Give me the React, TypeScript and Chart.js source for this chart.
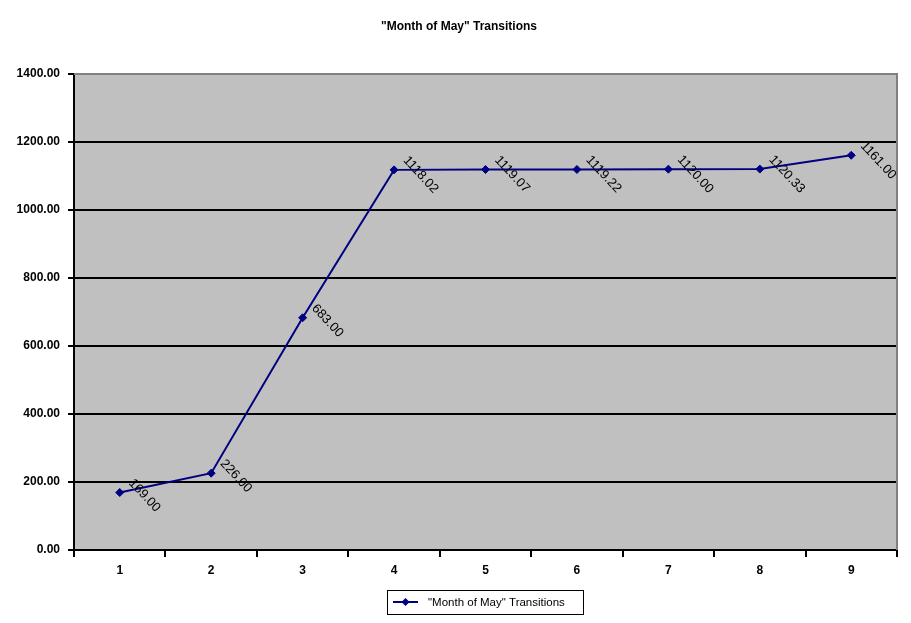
import React, { useEffect, useRef } from 'react';
import Chart from 'chart.js/auto';

const chartTitle = '"Month of May" Transitions';
const seriesName = '"Month of May" Transitions';
const categories = ['1', '2', '3', '4', '5', '6', '7', '8', '9'];
const transitions = [169.0, 226.0, 683.0, 1118.02, 1119.07, 1119.22, 1120.0, 1120.33, 1161.0];

const NAVY = '#000080';
const PLOT_GRAY = '#C0C0C0';
const BORDER_GRAY = '#808080';

// plot background + gray frame (top and right)
const plotBackground = {
    id: 'plotBackground',
    beforeDraw(chart: any) {
        const { ctx, chartArea } = chart;
        ctx.save();
        ctx.fillStyle = PLOT_GRAY;
        ctx.fillRect(chartArea.left, chartArea.top, chartArea.right - chartArea.left, chartArea.bottom - chartArea.top);
        ctx.restore();
    },
    beforeDatasetsDraw(chart: any) {
        const { ctx, chartArea } = chart;
        ctx.save();
        ctx.strokeStyle = BORDER_GRAY;
        ctx.lineWidth = 2;
        ctx.beginPath();
        ctx.moveTo(chartArea.left, chartArea.top);
        ctx.lineTo(chartArea.right, chartArea.top);
        ctx.lineTo(chartArea.right, chartArea.bottom);
        ctx.stroke();
        ctx.restore();
    }
};

// rotated value labels next to each point
const valueLabels = {
    id: 'valueLabels',
    afterDatasetsDraw(chart: any) {
        const { ctx } = chart;
        const meta = chart.getDatasetMeta(0);
        const data = chart.data.datasets[0].data as number[];
        ctx.save();
        ctx.font = '13px "Liberation Sans", Arial, sans-serif';
        ctx.fillStyle = '#000';
        ctx.textAlign = 'left';
        ctx.textBaseline = 'top';
        meta.data.forEach((pt: any, i: number) => {
            ctx.save();
            ctx.translate(pt.x + 16, pt.y - 16);
            ctx.rotate((47 * Math.PI) / 180);
            ctx.fillText(data[i].toFixed(2), 0, 0);
            ctx.restore();
        });
        ctx.restore();
    }
};

// title and boxed legend
const titleAndLegend = {
    id: 'titleAndLegend',
    afterDraw(chart: any) {
        const { ctx } = chart;
        const ds = chart.data.datasets[0];
        ctx.save();
        ctx.fillStyle = '#000';
        ctx.font = 'bold 12px "Liberation Sans", Arial, sans-serif';
        ctx.textAlign = 'center';
        ctx.textBaseline = 'middle';
        ctx.fillText(chartTitle, 459, 27);

        // legend box
        ctx.strokeStyle = '#000';
        ctx.lineWidth = 1;
        ctx.strokeRect(387.5, 590.5, 196, 24);
        ctx.strokeStyle = ds.borderColor;
        ctx.lineWidth = 2;
        ctx.beginPath();
        ctx.moveTo(393, 602);
        ctx.lineTo(418, 602);
        ctx.stroke();
        ctx.fillStyle = ds.pointBackgroundColor;
        ctx.beginPath();
        ctx.moveTo(405.5, 598);
        ctx.lineTo(409.5, 602);
        ctx.lineTo(405.5, 606);
        ctx.lineTo(401.5, 602);
        ctx.closePath();
        ctx.fill();
        ctx.fillStyle = '#000';
        ctx.font = '11.5px "Liberation Sans", Arial, sans-serif';
        ctx.textAlign = 'left';
        ctx.fillText(ds.label, 428, 603);
        ctx.restore();
    }
};

const App: React.FC = () => {
    const canvasRef = useRef<HTMLCanvasElement>(null);

    useEffect(() => {
        const ctx = canvasRef.current?.getContext('2d');
        if (!ctx) return;
        const chart = new Chart(ctx, {
            type: 'line',
            data: {
                labels: categories,
                datasets: [
                    {
                        label: seriesName,
                        data: transitions,
                        borderColor: NAVY,
                        backgroundColor: NAVY,
                        pointBackgroundColor: NAVY,
                        pointBorderColor: NAVY,
                        pointStyle: 'rectRot',
                        pointRadius: 4,
                        pointBorderWidth: 1,
                        borderWidth: 2,
                        tension: 0,
                        fill: false
                    }
                ]
            },
            options: {
                responsive: false,
                animation: false,
                layout: { padding: { left: 0, top: 74, right: 14, bottom: 33 } },
                plugins: {
                    legend: { display: false },
                    title: { display: false },
                    tooltip: { enabled: false }
                },
                scales: {
                    x: {
                        type: 'category',
                        offset: true,
                        afterFit: (scale: any) => { scale.height = 40; },
                        grid: {
                            offset: true,
                            drawOnChartArea: false,
                            drawTicks: true,
                            tickLength: 7,
                            color: '#000',
                            lineWidth: 2
                        },
                        border: { display: true, color: '#000', width: 2 },
                        ticks: {
                            color: '#000',
                            padding: 6,
                            font: { family: '"Liberation Sans", Arial, sans-serif', size: 12, weight: 'bold' }
                        }
                    },
                    y: {
                        min: 0,
                        max: 1400,
                        afterFit: (scale: any) => { scale.width = 74; },
                        grid: {
                            color: (c: any) => (c.tick && c.tick.value === 1400 ? BORDER_GRAY : '#000'),
                            lineWidth: 2,
                            tickLength: 6,
                            tickColor: '#000'
                        },
                        border: { display: true, color: '#000', width: 2 },
                        ticks: {
                            stepSize: 200,
                            color: '#000',
                            padding: 8,
                            callback: (v: any) => Number(v).toFixed(2),
                            font: { family: '"Liberation Sans", Arial, sans-serif', size: 12, weight: 'bold' }
                        }
                    }
                }
            },
            plugins: [plotBackground, valueLabels, titleAndLegend]
        });

        return () => {
            chart.destroy();
        };
    }, []);

    return (
        <div style={{ position: 'fixed', left: 0, top: 0, width: 911, height: 623, background: '#fff' }}>
            <canvas ref={canvasRef} width={911} height={623} />
        </div>
    );
};

export default App;
